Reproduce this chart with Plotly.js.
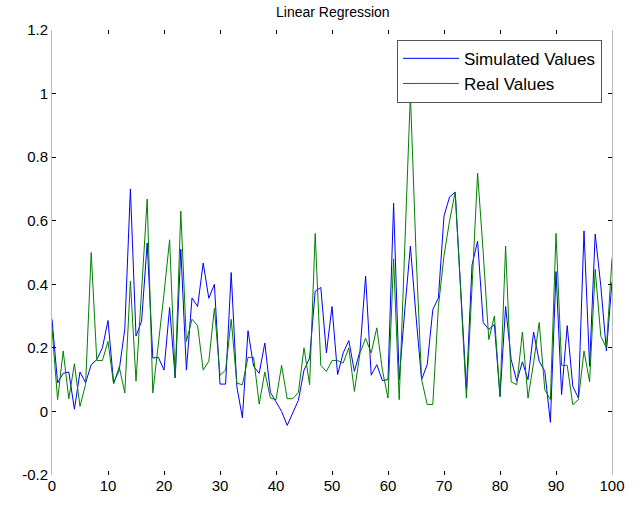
<!DOCTYPE html>
<html>
<head>
<meta charset="utf-8">
<script src="https://cdn.plot.ly/plotly-3.0.1.min.js"></script>
<style>
  html,body{margin:0;padding:0;background:#fff;}
  #chart{width:640px;height:512px;}
</style>
</head>
<body>
<div id="chart"></div>
<script>
// Simulated vs real values, sample index 0..100
const simulated=[
  0.29,0.09,0.12,0.124,0.007,0.124,0.09,0.147,0.163,0.2,
  0.286,0.09,0.13,0.26,0.70,0.237,0.284,0.53,0.168,0.17,
  0.13,0.327,0.105,0.51,0.13,0.357,0.33,0.467,0.356,0.40,
  0.086,0.086,0.437,0.079,-0.02,0.254,0.142,0.12,0.215,0.06,
  0.03,0.0,-0.044,-0.005,0.035,0.13,0.168,0.378,0.39,0.184,
  0.33,0.116,0.184,0.223,0.126,0.19,0.426,0.114,0.147,0.097,
  0.1,0.655,0.1,0.32,0.52,0.3,0.1,0.147,0.32,0.357,
  0.615,0.675,0.69,0.38,0.07,0.46,0.536,0.28,0.258,0.273,
  0.047,0.33,0.163,0.095,0.156,0.1,0.25,0.158,0.126,-0.034,
  0.44,0.053,0.27,0.079,0.042,0.568,0.142,0.558,0.395,0.19,
  0.408
];
const real=[
  0.26,0.037,0.19,0.04,0.15,0.016,0.085,0.5,0.16,0.16,
  0.22,0.086,0.14,0.058,0.41,0.095,0.38,0.668,0.058,0.21,
  0.37,0.54,0.105,0.63,0.22,0.29,0.27,0.13,0.158,0.324,
  0.114,0.13,0.29,0.089,0.084,0.17,0.17,0.023,0.124,0.042,
  0.037,0.145,0.04,0.04,0.06,0.2,0.084,0.56,0.145,0.126,
  0.16,0.16,0.152,0.2,0.063,0.184,0.23,0.184,0.263,0.13,
  0.042,0.48,0.037,0.52,1.0,0.5,0.1,0.022,0.022,0.33,
  0.49,0.6,0.69,0.37,0.042,0.39,0.75,0.5,0.226,0.3,
  0.047,0.52,0.093,0.084,0.25,0.042,0.153,0.28,0.068,0.037,
  0.56,0.145,0.145,0.021,0.037,0.19,0.093,0.447,0.237,0.2,
  0.482
];
const sampleIndex=simulated.map((v,i)=>i);

const xTickVals=[0,10,20,30,40,50,60,70,80,90,100];
const yTickVals=[-0.2,0,0.2,0.4,0.6,0.8,1,1.2];
const yTickText=["-0.2","0","0.2","0.4","0.6","0.8","1","1.2"];

const traceSim={
  x:sampleIndex,
  y:simulated,
  name:"Simulated Values",
  type:"scatter",
  mode:"lines",
  line:{color:"#0000ff",width:1},
};

const traceReal={
  x:sampleIndex,
  y:real,
  name:"Real Values",
  type:"scatter",
  mode:"lines",
  line:{color:"#008000",width:1},
};

const layout={
  width:640,
  height:512,
  paper_bgcolor:"#ffffff",
  plot_bgcolor:"#ffffff",
  font:{family:"Liberation Sans, Arial, sans-serif",color:"#000",size:14},
  title:{
    text:"Linear Regression",
    font:{size:14,color:"#000"},
    x:0.52,
    xanchor:"center",
    y:0.985,
    yanchor:"top",
  },
  margin:{l:52,r:28,t:30,b:37,pad:0},
  showlegend:true,
  legend:{
    x:0.616,
    y:0.978,
    xanchor:"left",
    yanchor:"top",
    bgcolor:"#ffffff",
    bordercolor:"#555555",
    borderwidth:1,
    font:{size:17},
    itemwidth:56,
    tracegroupgap:0,
  },
  xaxis:{
    range:[0,100],
    tickvals:xTickVals,
    ticks:"inside",
    ticklen:4,
    tickcolor:"#000",
    mirror:"ticks",
    showline:false,
    showgrid:false,
    zeroline:false,
    tickfont:{size:15},
  },
  yaxis:{
    range:[-0.2,1.2],
    tickvals:yTickVals,
    ticktext:yTickText,
    ticks:"inside",
    ticklen:4,
    tickcolor:"#000",
    mirror:"ticks",
    showline:true,
    linecolor:"#bbbbbb",
    linewidth:1,
    showgrid:false,
    zeroline:false,
    tickfont:{size:15},
  },
};

Plotly.newPlot("chart",[traceSim,traceReal],layout,{displayModeBar:false});
</script>
</body>
</html>
